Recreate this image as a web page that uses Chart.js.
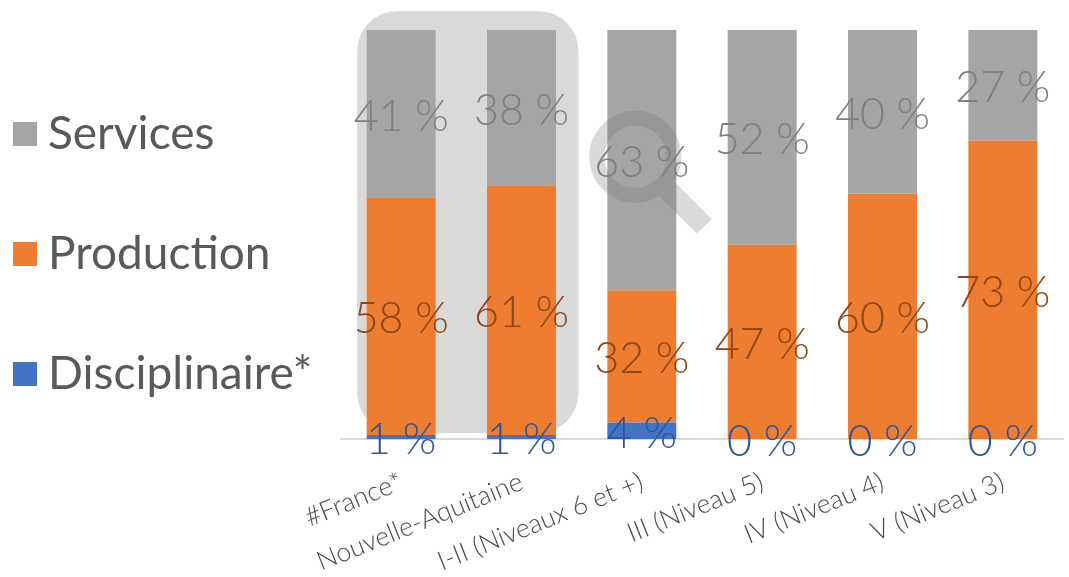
<!DOCTYPE html>
<html>
<head>
<meta charset="utf-8">
<style>
  html, body { margin: 0; padding: 0; background: #fff; }
  canvas { display: block; }
</style>
<script src="https://cdn.jsdelivr.net/npm/chart.js@4"></script>
</head>
<body>
<canvas id="chart" width="1069" height="577"></canvas>
<script>
const categories = ['#France*', 'Nouvelle-Aquitaine', 'I-II (Niveaux 6 et +)', 'III (Niveau 5)', 'IV (Niveau 4)', 'V (Niveau 3)'];
const disciplinaire = [1, 1, 4, 0, 0, 0];
const production = [58, 61, 32, 47, 60, 73];
const services = [41, 38, 63, 52, 40, 27];

const FONT = 'Lato, sans-serif';
const TEXT = '#595959';

// 100 % empilé : chaque colonne est ramenée à son total
const share = (list) => list.map((v, i) => v / (disciplinaire[i] + production[i] + services[i]) * 100);

// carré de légende, écart texte plus serré que celui de Chart.js
const swatch = (color) => {
    const c = document.createElement('canvas');
    c.width = 24;
    c.height = 24;
    const g = c.getContext('2d');
    g.fillStyle = color;
    g.fillRect(0, 0, 24, 24);
    return c;
};

// fond arrondi derrière les deux premières colonnes
const highlight = {
    id: 'highlight',
    afterLayout(chart) {
        chart.legend.left = -50;
        chart.legend.top = 37;
    },
    beforeDatasetsDraw(chart) {
        const x = chart.scales.x;
        const area = chart.chartArea;
        const ctx = chart.ctx;
        ctx.save();
        ctx.fillStyle = '#d9d9d9';
        ctx.beginPath();
        ctx.roundRect(x.getPixelForValue(0) - 44, area.top - 19, x.getPixelForValue(1) - x.getPixelForValue(0) + 101, area.height + 13, 40);
        ctx.fill();
        ctx.restore();
    }
};

// loupe par-dessus la colonne I-II, puis les étiquettes
const overlay = {
    id: 'overlay',
    afterDatasetsDraw(chart) {
        const ctx = chart.ctx;
        const cx = chart.scales.x.getPixelForValue(2) - 6.5;
        const cy = chart.scales.y.getPixelForValue(69);
        ctx.save();
        ctx.strokeStyle = 'rgba(112,112,112,0.267)';
        ctx.fillStyle = 'rgba(112,112,112,0.267)';
        ctx.lineWidth = 15;
        ctx.beginPath();
        ctx.arc(cx, cy, 38.5, 0, Math.PI * 2);
        ctx.stroke();
        ctx.beginPath();
        ctx.moveTo(cx + 24.5, cy + 40.5);
        ctx.lineTo(cx + 39.5, cy + 25.5);
        ctx.lineTo(cx + 76.5, cy + 62.5);
        ctx.lineTo(cx + 61.5, cy + 76.5);
        ctx.closePath();
        ctx.fill();
        ctx.restore();

        ctx.save();
        ctx.font = '300 43px ' + FONT;
        ctx.textAlign = 'center';
        ctx.textBaseline = 'middle';
        const raw = [disciplinaire, production, services];
        const colors = ['#2f5597', '#8f4614', '#7f7f7f'];
        ctx.beginPath();
        ctx.rect(0, 0, chart.width, 457);
        ctx.clip();
        raw.forEach((list, d) => {
            chart.getDatasetMeta(d).data.forEach((bar, i) => {
                const p = bar.getProps(['x', 'y', 'base'], true);
                ctx.fillStyle = colors[d];
                ctx.fillText(list[i] + ' %', p.x, (p.y + p.base) / 2 + 3);
            });
        });
        ctx.restore();
    }
};

new Chart(document.getElementById('chart'), {
    type: 'bar',
    data: {
        labels: categories,
        datasets: [
            { label: 'Disciplinaire*', data: share(disciplinaire), backgroundColor: '#4472c4', pointStyle: swatch('#4472c4') },
            { label: 'Production', data: share(production), backgroundColor: '#ed7d31', pointStyle: swatch('#ed7d31') },
            { label: 'Services', data: share(services), backgroundColor: '#a5a5a5', pointStyle: swatch('#a5a5a5') }
        ]
    },
    options: {
        responsive: false,
        animation: false,
        datasets: { bar: { categoryPercentage: 1, barPercentage: 0.573 } },
        layout: { padding: { top: 30, right: 6, bottom: 0, left: 0 } },
        plugins: {
            tooltip: { enabled: false },
            legend: {
                position: 'left',
                align: 'start',
                reverse: true,
                maxWidth: 330,
                labels: {
                    usePointStyle: true,
                    pointStyleWidth: 1,
                    padding: 74,
                    color: TEXT,
                    font: { family: FONT, size: 46, weight: '400' }
                }
            }
        },
        scales: {
            x: {
                stacked: true,
                grid: { display: false, drawTicks: false },
                border: { color: '#d9d9d9', width: 2 },
                ticks: {
                    autoSkip: false,
                    minRotation: 22,
                    maxRotation: 22,
                    padding: 27,
                    color: '#4d4d4d',
                    font: { family: FONT, size: 26.5, weight: '300' }
                },
                afterFit(scale) { scale.height = 138; }
            },
            y: {
                stacked: true,
                min: 0,
                max: 100,
                grid: { display: false },
                border: { display: false },
                ticks: { display: false },
                afterFit(scale) { scale.width = 11; }
            }
        }
    },
    plugins: [highlight, overlay]
});
</script>
</body>
</html>
